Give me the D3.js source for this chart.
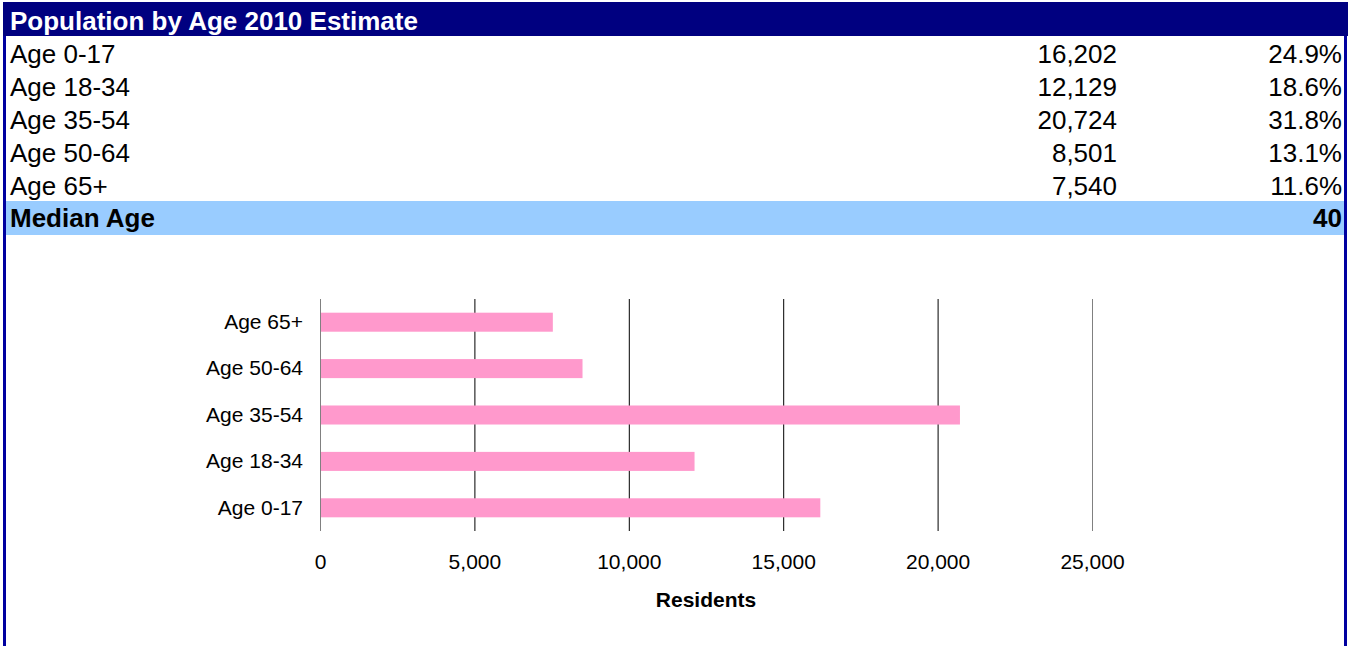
<!DOCTYPE html>
<html>
<head>
<meta charset="utf-8">
<script src="https://cdn.jsdelivr.net/npm/d3@7"></script>
<style>
  body { margin: 0; background: #fff; }
  text { font-family: "Liberation Sans", Arial, sans-serif; }
</style>
</head>
<body>
<svg id="drawing_region"></svg>
<script>
// table + chart data
const title = 'Population by Age 2010 Estimate';
const categories = ['Age 0-17', 'Age 18-34', 'Age 35-54', 'Age 50-64', 'Age 65+'];
const residents = [16202, 12129, 20724, 8501, 7540];
const shares = ['24.9%', '18.6%', '31.8%', '13.1%', '11.6%'];
const medianLabel = 'Median Age';
const medianAge = 40;
const xTicks = [0, 5000, 10000, 15000, 20000, 25000];
const axisTitle = 'Residents';

const W = 1356, H = 646;
const svg = d3.select('#drawing_region')
    .attr('width', W)
    .attr('height', H);

const navy = '#000080';
const left = 3, right = 1348;
const tableFont = '26px';
const chartFont = '21px';

// outer frame sides
svg.append('rect').attr('x', left).attr('y', 2).attr('width', 3).attr('height', H)
    .attr('fill', '#0000a0');
svg.append('rect').attr('x', right - 4).attr('y', 2).attr('width', 3).attr('height', H)
    .attr('fill', '#0000a0');

// header band
svg.append('rect').attr('x', left).attr('y', 2).attr('width', right - left).attr('height', 34)
    .attr('fill', navy);
svg.append('text')
    .attr('x', 10).attr('y', 29.5)
    .attr('fill', 'white')
    .style('font-size', tableFont)
    .style('font-weight', 'bold')
    .text(title);

// table rows
const rowH = 33, rowTop = 37;
const rows = svg.append('g');
categories.forEach((c, i) => {
    const y = rowTop + i * rowH + 25.5;
    rows.append('text').attr('x', 10).attr('y', y)
        .style('font-size', tableFont).text(c);
    rows.append('text').attr('x', 1117).attr('y', y)
        .attr('text-anchor', 'end')
        .style('font-size', tableFont).text(d3.format(',')(residents[i]));
    rows.append('text').attr('x', 1342).attr('y', y)
        .attr('text-anchor', 'end')
        .style('font-size', tableFont).text(shares[i]);
});

// median row
const medY = rowTop + categories.length * rowH - 1;
svg.append('rect').attr('x', 6).attr('y', medY).attr('width', right - 4 - 6).attr('height', 34)
    .attr('fill', '#99ccff');
svg.append('text').attr('x', 10).attr('y', medY + 26)
    .style('font-size', tableFont).style('font-weight', 'bold').text(medianLabel);
svg.append('text').attr('x', 1342).attr('y', medY + 26)
    .attr('text-anchor', 'end')
    .style('font-size', tableFont).style('font-weight', 'bold').text(medianAge);

// bar chart
const plot = {x0: 320, x1: 1092, y0: 299, y1: 531};

const xScale = d3.scaleLinear()
    .domain([0, 25000])
    .range([plot.x0, plot.x1]);

const yScale = d3.scaleBand()
    .domain(categories.slice().reverse())
    .range([plot.y0, plot.y1])
    .paddingInner(0.59)
    .paddingOuter(0.295);

const chart = svg.append('g');

// gridlines
chart.selectAll('.grid')
    .data(xTicks)
    .enter()
    .append('line')
    .attr('x1', d => xScale(d) + 0.5)
    .attr('x2', d => xScale(d) + 0.5)
    .attr('y1', plot.y0)
    .attr('y2', plot.y1)
    .attr('stroke', d => (d === 0 || d === 25000) ? '#808080' : '#000')
    .attr('stroke-width', 1);

// bars
chart.selectAll('.bar')
    .data(categories)
    .enter()
    .append('rect')
    .attr('x', xScale(0) + 1)
    .attr('y', d => yScale(d))
    .attr('width', (d, i) => xScale(residents[i]) - xScale(0) - 1)
    .attr('height', yScale.bandwidth())
    .attr('fill', '#ff99cc');

// x axis
const xAxis = chart.append('g')
    .attr('transform', `translate(0,${plot.y1})`)
    .call(d3.axisBottom(xScale)
        .tickValues(xTicks)
        .tickFormat(d3.format(','))
        .tickSize(0)
        .tickPadding(23));
xAxis.select('.domain').remove();
xAxis.selectAll('text')
    .attr('fill', '#000')
    .style('font-family', '"Liberation Sans", Arial, sans-serif')
    .style('font-size', chartFont);

// y axis
const yAxis = chart.append('g')
    .attr('transform', `translate(${plot.x0},0)`)
    .call(d3.axisLeft(yScale).tickSize(0).tickPadding(17));
yAxis.select('.domain').remove();
yAxis.selectAll('text')
    .attr('fill', '#000')
    .style('font-family', '"Liberation Sans", Arial, sans-serif')
    .style('font-size', chartFont);

// axis title
svg.append('text')
    .attr('x', (plot.x0 + plot.x1) / 2)
    .attr('y', 607)
    .attr('text-anchor', 'middle')
    .style('font-size', chartFont)
    .style('font-weight', 'bold')
    .text(axisTitle);
</script>
</body>
</html>
